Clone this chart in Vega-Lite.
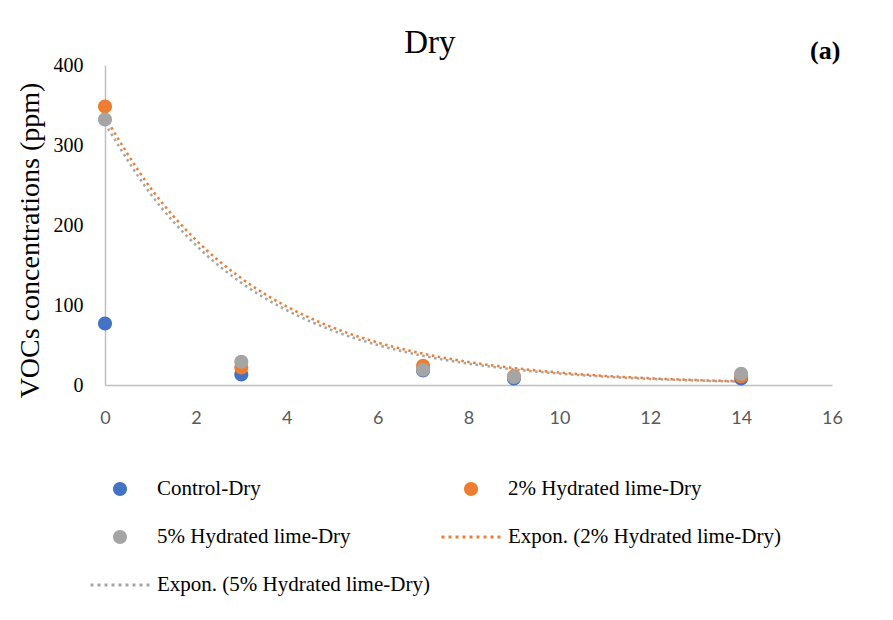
{
  "$schema": "https://vega.github.io/schema/vega-lite/v6.json",
  "width": 727,
  "height": 320,
  "autosize": {"type": "none"},
  "padding": {"left": 105, "top": 65, "right": 61, "bottom": 235},
  "background": "#ffffff",
  "config": {"view": {"stroke": null}},
  "datasets": {
    "pts": [
      {"day": 0, "voc": 77, "series": "Control-Dry"},
      {"day": 3, "voc": 13, "series": "Control-Dry"},
      {"day": 7, "voc": 18, "series": "Control-Dry"},
      {"day": 9, "voc": 8, "series": "Control-Dry"},
      {"day": 14, "voc": 8, "series": "Control-Dry"},
      {"day": 0, "voc": 348, "series": "2% Hydrated lime-Dry"},
      {"day": 3, "voc": 22, "series": "2% Hydrated lime-Dry"},
      {"day": 7, "voc": 24, "series": "2% Hydrated lime-Dry"},
      {"day": 9, "voc": 11, "series": "2% Hydrated lime-Dry"},
      {"day": 14, "voc": 11, "series": "2% Hydrated lime-Dry"},
      {"day": 0, "voc": 332, "series": "5% Hydrated lime-Dry"},
      {"day": 3, "voc": 29, "series": "5% Hydrated lime-Dry"},
      {"day": 7, "voc": 19, "series": "5% Hydrated lime-Dry"},
      {"day": 9, "voc": 10, "series": "5% Hydrated lime-Dry"},
      {"day": 14, "voc": 14, "series": "5% Hydrated lime-Dry"}
    ],
    "fits": [
      {"day": 0, "voc": 335, "series": "Expon. (2% Hydrated lime-Dry)"},
      {"day": 1, "voc": 246.5, "series": "Expon. (2% Hydrated lime-Dry)"},
      {"day": 2, "voc": 181.3, "series": "Expon. (2% Hydrated lime-Dry)"},
      {"day": 3, "voc": 133.4, "series": "Expon. (2% Hydrated lime-Dry)"},
      {"day": 4, "voc": 98.1, "series": "Expon. (2% Hydrated lime-Dry)"},
      {"day": 5, "voc": 72.2, "series": "Expon. (2% Hydrated lime-Dry)"},
      {"day": 6, "voc": 53.1, "series": "Expon. (2% Hydrated lime-Dry)"},
      {"day": 7, "voc": 39.1, "series": "Expon. (2% Hydrated lime-Dry)"},
      {"day": 8, "voc": 28.8, "series": "Expon. (2% Hydrated lime-Dry)"},
      {"day": 9, "voc": 21.2, "series": "Expon. (2% Hydrated lime-Dry)"},
      {"day": 10, "voc": 15.6, "series": "Expon. (2% Hydrated lime-Dry)"},
      {"day": 11, "voc": 11.4, "series": "Expon. (2% Hydrated lime-Dry)"},
      {"day": 12, "voc": 8.4, "series": "Expon. (2% Hydrated lime-Dry)"},
      {"day": 13, "voc": 6.2, "series": "Expon. (2% Hydrated lime-Dry)"},
      {"day": 14, "voc": 4.6, "series": "Expon. (2% Hydrated lime-Dry)"},
      {"day": 0, "voc": 327, "series": "Expon. (5% Hydrated lime-Dry)"},
      {"day": 1, "voc": 239.1, "series": "Expon. (5% Hydrated lime-Dry)"},
      {"day": 2, "voc": 174.8, "series": "Expon. (5% Hydrated lime-Dry)"},
      {"day": 3, "voc": 127.8, "series": "Expon. (5% Hydrated lime-Dry)"},
      {"day": 4, "voc": 93.5, "series": "Expon. (5% Hydrated lime-Dry)"},
      {"day": 5, "voc": 68.3, "series": "Expon. (5% Hydrated lime-Dry)"},
      {"day": 6, "voc": 50.0, "series": "Expon. (5% Hydrated lime-Dry)"},
      {"day": 7, "voc": 36.5, "series": "Expon. (5% Hydrated lime-Dry)"},
      {"day": 8, "voc": 26.7, "series": "Expon. (5% Hydrated lime-Dry)"},
      {"day": 9, "voc": 19.5, "series": "Expon. (5% Hydrated lime-Dry)"},
      {"day": 10, "voc": 14.3, "series": "Expon. (5% Hydrated lime-Dry)"},
      {"day": 11, "voc": 10.4, "series": "Expon. (5% Hydrated lime-Dry)"},
      {"day": 12, "voc": 7.6, "series": "Expon. (5% Hydrated lime-Dry)"},
      {"day": 13, "voc": 5.6, "series": "Expon. (5% Hydrated lime-Dry)"},
      {"day": 14, "voc": 4.1, "series": "Expon. (5% Hydrated lime-Dry)"}
    ],
    "note": [
      {"day": 15.85, "voc": 417, "label": "(a)"}
    ],
    "head": [
      {"day": 7.15, "voc": 415, "label": "Dry"}
    ]
  },
  "encoding": {
    "x": {
      "field": "day",
      "type": "quantitative",
      "scale": {"domain": [0, 16], "nice": false, "zero": false},
      "axis": {
        "title": null,
        "values": [0, 2, 4, 6, 8, 10, 12, 14, 16],
        "grid": false,
        "ticks": false,
        "labelFlush": false,
        "domainColor": "#bfbfbf",
        "domainWidth": 1.5,
        "labelFont": "Lato",
        "labelFontSize": 18,
        "labelColor": "#595959",
        "labelPadding": 24
      }
    },
    "y": {
      "field": "voc",
      "type": "quantitative",
      "scale": {"domain": [0, 400], "nice": false},
      "axis": {
        "title": "VOCs concentrations (ppm)",
        "values": [0, 100, 200, 300, 400],
        "grid": false,
        "ticks": false,
        "labelFlush": false,
        "domainColor": "#bfbfbf",
        "domainWidth": 1.5,
        "labelFont": "Liberation Serif",
        "labelFontSize": 20,
        "labelColor": "#000000",
        "labelPadding": 22,
        "titleFont": "Liberation Serif",
        "titleFontSize": 28,
        "titleFontWeight": "normal",
        "titleColor": "#000000",
        "titlePadding": 9,
        "titleY": 175
      }
    }
  },
  "layer": [
    {
      "data": {"name": "fits"},
      "mark": {"type": "line", "strokeDash": [2.5, 3.5], "strokeWidth": 2.5, "interpolate": "monotone"},
      "encoding": {
        "stroke": {
          "field": "series",
          "type": "nominal",
          "scale": {
            "domain": ["Expon. (2% Hydrated lime-Dry)", "Expon. (5% Hydrated lime-Dry)"],
            "range": ["#ed7d31", "#a5a5a5"]
          },
          "legend": null
        }
      }
    },
    {
      "data": {"name": "pts"},
      "mark": {"type": "point", "filled": true, "opacity": 1, "size": 1600, "strokeWidth": 0},
      "encoding": {
        "color": {
          "field": "series",
          "type": "nominal",
          "sort": null,
          "scale": {
            "domain": ["Control-Dry", "5% Hydrated lime-Dry", "Expon. (5% Hydrated lime-Dry)", "2% Hydrated lime-Dry", "Expon. (2% Hydrated lime-Dry)"],
            "range": ["#4472c4", "#a5a5a5", "#a5a5a5", "#ed7d31", "#ed7d31"]
          },
          "legend": {
            "title": null,
            "orient": "none",
            "legendX": -5,
            "legendY": 404,
            "columns": 2,
            "columnPadding": 11,
            "rowPadding": 18,
            "symbolSize": 1600,
            "symbolStrokeWidth": 0,
            "labelOffset": 17,
            "labelFont": "Liberation Serif",
            "labelFontSize": 21,
            "labelColor": "#000000",
            "labelLimit": 500
          }
        },
        "shape": {
          "field": "series",
          "type": "nominal",
          "sort": null,
          "scale": {
            "domain": ["Control-Dry", "5% Hydrated lime-Dry", "Expon. (5% Hydrated lime-Dry)", "2% Hydrated lime-Dry", "Expon. (2% Hydrated lime-Dry)"],
            "range": [
              "M-0.35,0A0.35,0.35,0,1,1,0.35,0A0.35,0.35,0,1,1,-0.35,0Z",
              "M-0.35,0A0.35,0.35,0,1,1,0.35,0A0.35,0.35,0,1,1,-0.35,0Z",
              "M-1.475,-0.075h0.15v0.15h-0.15ZM-1.125,-0.075h0.15v0.15h-0.15ZM-0.775,-0.075h0.15v0.15h-0.15ZM-0.425,-0.075h0.15v0.15h-0.15ZM-0.075,-0.075h0.15v0.15h-0.15ZM0.275,-0.075h0.15v0.15h-0.15ZM0.625,-0.075h0.15v0.15h-0.15ZM0.975,-0.075h0.15v0.15h-0.15ZM1.325,-0.075h0.15v0.15h-0.15Z",
              "M-0.35,0A0.35,0.35,0,1,1,0.35,0A0.35,0.35,0,1,1,-0.35,0Z",
              "M-1.475,-0.075h0.15v0.15h-0.15ZM-1.125,-0.075h0.15v0.15h-0.15ZM-0.775,-0.075h0.15v0.15h-0.15ZM-0.425,-0.075h0.15v0.15h-0.15ZM-0.075,-0.075h0.15v0.15h-0.15ZM0.275,-0.075h0.15v0.15h-0.15ZM0.625,-0.075h0.15v0.15h-0.15ZM0.975,-0.075h0.15v0.15h-0.15ZM1.325,-0.075h0.15v0.15h-0.15Z"
            ]
          },
          "legend": {
            "title": null,
            "orient": "none",
            "legendX": -5,
            "legendY": 404,
            "columns": 2,
            "columnPadding": 11,
            "rowPadding": 18,
            "symbolSize": 1600,
            "symbolStrokeWidth": 0,
            "labelOffset": 17,
            "labelFont": "Liberation Serif",
            "labelFontSize": 21,
            "labelColor": "#000000",
            "labelLimit": 500
          }
        }
      }
    },
    {
      "data": {"name": "note"},
      "mark": {"type": "text", "font": "Liberation Serif", "fontSize": 26, "fontWeight": "bold", "align": "center", "baseline": "middle", "color": "#000000"},
      "encoding": {
        "text": {"field": "label", "type": "nominal"}
      }
    },
    {
      "data": {"name": "head"},
      "mark": {"type": "text", "font": "Liberation Serif", "fontSize": 33, "fontWeight": "normal", "align": "center", "baseline": "alphabetic", "color": "#000000"},
      "encoding": {
        "text": {"field": "label", "type": "nominal"}
      }
    }
  ]
}
